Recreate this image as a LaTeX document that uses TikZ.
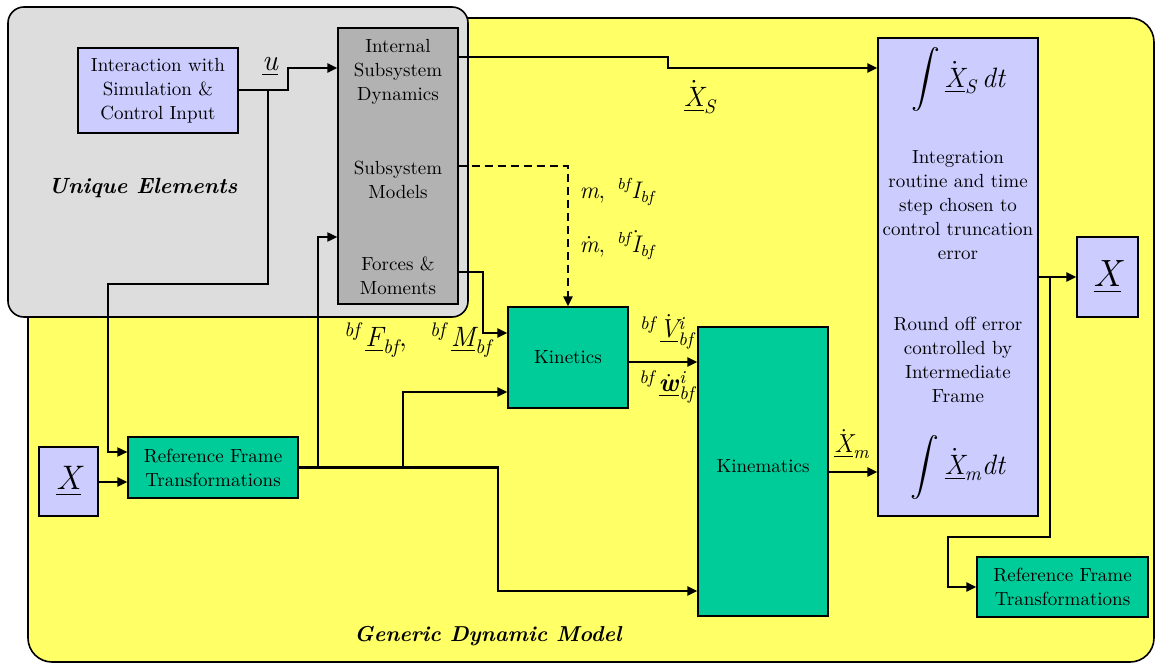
\documentclass[tikz,border=0pt]{standalone}
\usepackage{amsmath}
\usetikzlibrary{arrows.meta}

\definecolor{yellowbg}{HTML}{FFFF66}
\definecolor{graybg}{HTML}{DDDDDD}
\definecolor{graymid}{HTML}{B2B2B2}
\definecolor{lavender}{HTML}{CCCCFF}
\definecolor{greenblk}{HTML}{00CC99}
\newcommand{\ti}[1]{\textit{#1}}

\begin{document}
\begin{tikzpicture}[x=0.5pt,y=-0.5pt,
  >={Triangle[length=5pt,width=4.5pt]},
  every node/.style={font=\fontsize{9.5}{12}\selectfont},
  blk/.style={draw=black, line width=0.6pt, inner sep=0pt, align=center},
  lav/.style={blk, fill=lavender},
  grn/.style={blk, fill=greenblk},
  txt/.style={inner sep=0pt, align=center},
  wire/.style={line width=1.3pt},
  thinwire/.style={line width=0.9pt}]
\useasboundingbox (0,0) rectangle (1155,663);
%% regions
\draw [fill=yellowbg, line width=0.8pt, rounded corners=12pt] (28,18) rectangle (1154,662);
\draw [fill=graybg, line width=0.8pt, rounded corners=8pt] (8,7) rectangle (468,317);
\node [txt, font=\bfseries\itshape\fontsize{11}{13}\selectfont] (uniq) at (143,188) {Unique Elements};
\node [txt, font=\bfseries\itshape\fontsize{10.8}{13}\selectfont] (generic) at (488,636) {Generic Dynamic Model};
%% blocks
\node [lav, minimum width=80pt, minimum height=42.5pt] (inter) at (158,90.5) {Interaction with\\Simulation \&\\Control Input};
\node [blk, fill=graymid, minimum width=60pt, minimum height=138pt] (subsys) at (398,166) {};
\node [txt] (subdyn) at (398,72) {Internal\\Subsystem\\Dynamics};
\node [txt] (submod) at (398,180) {Subsystem\\Models};
\node [txt] (subfm) at (398,276) {Forces \&\\Moments};
\node [grn, minimum width=60pt, minimum height=50.5pt] (kin) at (568,357.5) {Kinetics};
\node [grn, minimum width=65pt, minimum height=144.5pt] (kinem) at (763,471.5) {};
\node [txt] (kinemtxt) at (763,466) {Kinematics};
\node [lav, minimum width=80pt, minimum height=239pt] (integ) at (958,277) {};
\node [txt, font=\fontsize{14}{16}\selectfont] (intS) at (958,80) {$\displaystyle\int\underline{\dot{\ti{X}}}_{\ti{S}}\,\ti{dt}$};
\node [txt] (intnote) at (958,205) {Integration\\routine and time\\step chosen to\\control truncation\\error};
\node [txt] (roundnote) at (958,360) {Round off error\\controlled by\\Intermediate\\Frame};
\node [txt, font=\fontsize{14}{16}\selectfont] (intM) at (958,467) {$\displaystyle\int\underline{\dot{\ti{X}}}_{\ti{m}}\ti{dt}$};
\node [lav, minimum width=30.5pt, minimum height=40pt, font=\fontsize{19}{22}\selectfont] (xout) at (1107.5,277) {$\underline{\ti{X}}$};
\node [grn, minimum width=85pt, minimum height=30.5pt] (rft1) at (213,467.5) {Reference Frame\\Transformations};
\node [lav, minimum width=29.5pt, minimum height=34.5pt, font=\fontsize{17}{20}\selectfont] (xin) at (68.5,481.5) {$\underline{\ti{X}}$};
\node [grn, minimum width=85.5pt, minimum height=30pt] (rft2) at (1062.5,587) {Reference Frame\\Transformations};
%% labels
\node [txt, font=\fontsize{15}{18}\selectfont] (lblu) at (270,67) {$\underline{\ti{u}}$};
\node [txt, font=\fontsize{14}{16}\selectfont] (lblxs) at (700,97) {$\underline{\dot{\ti{X}}}_{\ti{S}}$};
\node [txt, font=\fontsize{12}{14}\selectfont] (lblmi) at (617,192) {$\ti{m},\ {}^{\ti{bf}}\ti{I}_{\ti{bf}}$};
\node [txt, font=\fontsize{12}{14}\selectfont] (lblmdi) at (617,245) {$\dot{\ti{m}},\ {}^{\ti{bf}}\dot{\ti{I}}_{\ti{bf}}$};
\node [txt, font=\fontsize{14}{16}\selectfont] (lblfm) at (418,340) {${}^{\ti{bf}}\,\underline{\ti{F}}_{\ti{bf}},\ \ {}^{\ti{bf}}\,\underline{\ti{M}}_{\ti{bf}}$};
\node [txt, font=\fontsize{13}{15}\selectfont] (lblv) at (667,332) {${}^{\ti{bf}}\,\underline{\dot{\ti{V}}}{}^{\ti{i}}_{\ti{bf}}$};
\node [txt, font=\fontsize{13}{15}\selectfont] (lblw) at (667,387) {${}^{\ti{bf}}\,\underline{\dot{\textbf{\ti{w}}}}{}^{\ti{i}}_{\ti{bf}}$};
\node [txt, font=\fontsize{13}{15}\selectfont] (lblxm) at (852,444) {$\underline{\dot{\ti{X}}}_{\ti{m}}$};
%% connectors
\coordinate (ujog) at (288,68);
\coordinate (utap) at (268,90);
\coordinate (ufb) at (108,284);
\draw [wire,->] (inter.east |- utap) -| (ujog) -- (ujog -| subsys.west);
\draw [thinwire,->] (utap) |- (ufb) |- (rft1.west |- 0,452);
\draw [wire,->] (xin.east |- 0,482) -- (rft1.west |- 0,482);
\coordinate (rtap1) at (318,467.5);
\coordinate (rtap2) at (403,467.5);
\coordinate (rjog) at (498,591);
\draw [wire,->] (rft1.east) -| (rjog) -- (rjog -| kinem.west);
\draw [wire,->] (rtap2) |- (kin.west |- 0,392);
\draw [thinwire,->] (rtap1) |- (subsys.west |- 0,237);
\coordinate (fmjog) at (483,333);
\draw [wire,->] (subsys.east |- 0,272) -| (fmjog) -- (fmjog -| kin.west);
\draw [wire,dashed,dash pattern=on 4pt off 2.5pt,->] (subsys.east |- 0,166) -| (kin.north);
\draw [wire,->] (kin.east |- 0,362) -- (kinem.west |- 0,362);
\coordinate (sjog) at (668,57);
\draw [wire,->] (subsys.east |- sjog) -- (sjog) |- (integ.west |- 0,68);
\draw [wire,->] (kinem.east |- 0,472) -- (integ.west |- 0,472);
\draw [wire,->] (integ.east) -- (xout.west);
\coordinate (otap) at (1050,277);
\coordinate (ojog) at (948,537);
\draw [wire,->] (otap) |- (ojog) |- (rft2.west);
\end{tikzpicture}
\end{document}
